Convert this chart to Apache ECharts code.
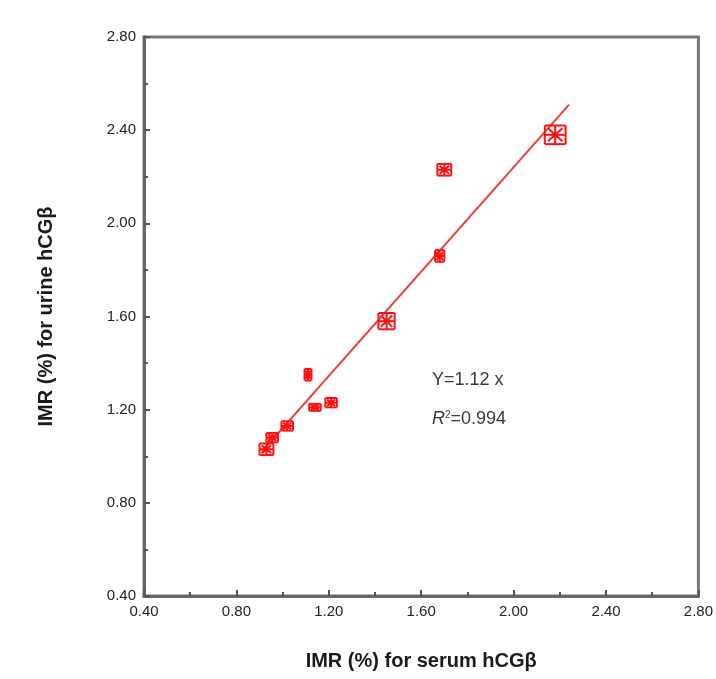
<!DOCTYPE html>
<html>
<head>
<meta charset="utf-8">
<script src="https://cdn.jsdelivr.net/npm/echarts@6/dist/echarts.min.js"></script>
<style>
  html, body { margin: 0; padding: 0; background: #fff; }
  #chart { width: 716px; height: 679px; }
</style>
</head>
<body>
<div id="chart"></div>
<script>
// values
const serumX   = [0.93, 0.955, 1.02, 1.11, 1.14, 1.21, 1.45, 1.68, 1.70, 2.18];
const urineY   = [1.03, 1.08, 1.13, 1.35, 1.21, 1.23, 1.58, 1.86, 2.23, 2.38];
const serumErr = [0.03, 0.025, 0.025, 0.015, 0.025, 0.025, 0.035, 0.02, 0.03, 0.045];
const urineErr = [0.025, 0.02, 0.02, 0.025, 0.015, 0.02, 0.035, 0.025, 0.025, 0.04];
const fitLine  = [[0.91, 1.02], [2.24, 2.51]];

const red = '#ff1010';
const font = '"Liberation Sans", Arial, sans-serif';

const chart = echarts.init(document.getElementById('chart'));

const points = serumX.map((x, i) => [x, urineY[i], serumErr[i], urineErr[i]]);

// error bars with caps, the caps close up into the little boxes of the original
function errItem(params, api) {
  const x = api.value(0), y = api.value(1), ex = api.value(2), ey = api.value(3);
  const c = api.coord([x, y]);
  const l = api.coord([x - ex, y])[0], r = api.coord([x + ex, y])[0];
  const t = api.coord([x, y + ey])[1], b = api.coord([x, y - ey])[1];
  const hw = (r - l) / 2, hh = (b - t) / 2;
  const st = { stroke: red, lineWidth: 2 };
  const ln = (x1, y1, x2, y2) => ({ type: 'line', shape: { x1, y1, x2, y2 }, style: st });
  return {
    type: 'group',
    children: [
      ln(l, c[1], r, c[1]),
      ln(c[0], t, c[0], b),
      ln(l, c[1] - hh, l, c[1] + hh),
      ln(r, c[1] - hh, r, c[1] + hh),
      ln(c[0] - hw, t, c[0] + hw, t),
      ln(c[0] - hw, b, c[0] + hw, b),
      ln(c[0] - hw * 0.7, c[1] - hh * 0.7, c[0] + hw * 0.7, c[1] + hh * 0.7),
      ln(c[0] - hw * 0.7, c[1] + hh * 0.7, c[0] + hw * 0.7, c[1] - hh * 0.7)
    ]
  };
}

const axisCommon = {
  type: 'value',
  min: 0.4,
  max: 2.8,
  interval: 0.4,
  axisLine: { show: true, lineStyle: { color: '#666', width: 3 } },
  axisTick: { show: true, inside: true, length: 6, lineStyle: { color: '#555', width: 2 } },
  minorTick: { show: true, splitNumber: 2, length: 4, lineStyle: { color: '#555', width: 2 } },
  splitLine: { show: false },
  axisLabel: {
    color: '#222', fontFamily: font, fontSize: 15, margin: 8,
    formatter: v => v.toFixed(2)
  },
  nameLocation: 'middle',
  nameTextStyle: { color: '#1a1a1a', fontFamily: font, fontSize: 20, fontWeight: 'bold' }
};

chart.setOption({
  animation: false,
  grid: {
    left: 144, right: 14, top: 37, bottom: 83,
    show: true, borderColor: '#777', borderWidth: 3, backgroundColor: '#fff'
  },
  xAxis: Object.assign({}, axisCommon, {
    name: 'IMR (%) for serum hCGβ',
    nameGap: 55
  }),
  yAxis: Object.assign({}, axisCommon, {
    name: 'IMR (%) for urine hCGβ',
    nameGap: 88
  }),
  series: [
    {
      type: 'line',
      data: fitLine,
      symbol: 'none',
      lineStyle: { color: '#f03a3a', width: 2 },
      z: 2
    },
    {
      type: 'custom',
      data: points,
      renderItem: errItem,
      z: 3
    },
    {
      type: 'scatter',
      data: points.map(p => [p[0], p[1]]),
      symbol: 'circle',
      symbolSize: 6,
      itemStyle: { color: red },
      z: 4
    }
  ],
  graphic: [
    {
      type: 'text', left: 432, top: 371,
      style: { text: 'Y=1.12 x', fill: '#3a3a3a', font: '18px ' + font }
    },
    {
      type: 'text', left: 432, top: 410,
      style: {
        text: '{r|R}{s|2}{t|=0.994}',
        fill: '#3a3a3a',
        rich: {
          r: { fontStyle: 'italic', fontSize: 18, fontFamily: font, fill: '#3a3a3a' },
          s: { fontSize: 10, fontFamily: font, verticalAlign: 'top', fill: '#3a3a3a', padding: [0, 0, 8, 0] },
          t: { fontSize: 18, fontFamily: font, fill: '#3a3a3a' }
        }
      }
    }
  ]
});
</script>
</body>
</html>
